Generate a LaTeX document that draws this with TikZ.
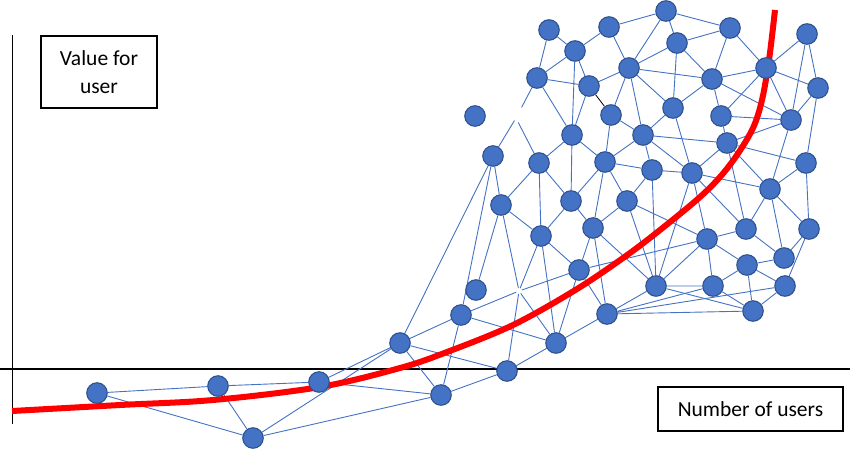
\documentclass[tikz,border=0pt]{standalone}
\usepackage{fontspec}
\setmainfont{Carlito}
\usetikzlibrary{backgrounds}
\definecolor{dotblue}{HTML}{4472C4}
\definecolor{dotrim}{HTML}{2F528F}
\definecolor{curvered}{HTML}{FF0000}

\begin{document}
\begin{tikzpicture}[x=1pt, y=-1pt,
  usr/.style={circle, fill=dotblue, draw=dotrim, line width=1.1pt, minimum size=20.5pt, inner sep=0pt},
  lnk/.style={draw=dotblue, line width=0.9pt},
  lbl/.style={rectangle, draw, line width=1.1pt, align=center, inner sep=0pt, font=\fontsize{21.5}{28}\selectfont},
  axis/.style={black, line width=1.3pt}
]
  \useasboundingbox (0,0) rectangle (850,450);

  % axis labels
  \node[lbl, minimum width=116pt, minimum height=72pt] (yname) at (99,72)    {Value for\\user};
  \node[lbl, minimum width=185pt, minimum height=44pt] (xname) at (750.5,409) {Number of users};

  % users, low part
  \node[usr] (n1) at (97,393) {};   \node[usr] (n2) at (218,386) {};  \node[usr] (n3) at (253,438) {};
  \node[usr] (n4) at (319,382) {};  \node[usr] (n5) at (400,343) {};  \node[usr] (n6) at (441,395) {};
  \node[usr] (n7) at (461,315) {};  \node[usr] (n8) at (476,290) {};  \node[usr] (n9) at (507,371) {};
  \node[usr] (n10) at (556,343) {}; \node[usr] (n11) at (607,314) {}; \node[usr] (n12) at (579,270) {};
  % users, middle
  \node[usr] (n13) at (541,236) {}; \node[usr] (n14) at (501,205) {}; \node[usr] (n15) at (493,156) {};
  \node[usr] (n16) at (475,116) {}; \node[usr] (n17) at (539,163) {}; \node[usr] (n18) at (571,201) {};
  \node[usr] (n19) at (593,228) {}; \node[usr] (n20) at (605,162) {}; \node[usr] (n21) at (627,201) {};
  \node[usr] (n22) at (656,286) {}; \node[usr] (n23) at (652,170) {}; \node[usr] (n24) at (643,135) {};
  \node[usr] (n25) at (572,135) {}; \node[usr] (n26) at (611,115) {}; \node[usr] (n27) at (589,86) {};
  % users, top
  \node[usr] (n28) at (537,78) {};  \node[usr] (n29) at (575,51) {};  \node[usr] (n30) at (549,30) {};
  \node[usr] (n31) at (629,68) {};  \node[usr] (n32) at (609,27) {};  \node[usr] (n33) at (666,11) {};
  \node[usr] (n34) at (677,43) {};  \node[usr] (n35) at (673,108) {}; \node[usr] (n36) at (730,28) {};
  \node[usr] (n37) at (712,79) {};  \node[usr] (n38) at (766,68) {};  \node[usr] (n39) at (807,34) {};
  \node[usr] (n40) at (818,88) {};  \node[usr] (n41) at (721,116) {}; \node[usr] (n42) at (791,120) {};
  % users, right
  \node[usr] (n43) at (727,143) {}; \node[usr] (n44) at (692,173) {}; \node[usr] (n45) at (806,163) {};
  \node[usr] (n46) at (770,189) {}; \node[usr] (n47) at (746,229) {}; \node[usr] (n48) at (809,229) {};
  \node[usr] (n49) at (707,239) {}; \node[usr] (n50) at (784,258) {}; \node[usr] (n51) at (747,265) {};
  \node[usr] (n52) at (713,286) {}; \node[usr] (n53) at (785,286) {}; \node[usr] (n54) at (753,311) {};
  % where links meet without a user
  \coordinate (g1) at (516,118);
  \coordinate (g2) at (519,291);

  \begin{scope}[on background layer]
    \draw[axis] (12.5,35) -- (12.5,424);
    \draw[axis] (0,369) -- (850,369);

    \draw[lnk] (n1) -- (n2) (n1) -- (n3) (n2) -- (n3) (n2) -- (n4) (n3) -- (n5) (n3) -- (n6)
      (n4) -- (n5) (n4) -- (n6) (n5) -- (n6) (n5) -- (n7) (n5) -- (n9) (n5) -- (n15)
      (n6) -- (n7) (n6) -- (n9) (n7) -- (n10) (n7) -- (n15) (n8) -- (n14) (n9) -- (n10)
      (n10) -- (n11) (n10) -- (n12) (n10) -- (n13) (n11) -- (n12) (n11) -- (n19) (n11) -- (n22)
      (n11) -- (n52) (n11) -- (n53) (n11) -- (n54) (n12) -- (n13) (n12) -- (n19) (n12) -- (n49);
    \draw[lnk] (n13) -- (n14) (n13) -- (n17) (n13) -- (n18) (n14) -- (n15) (n14) -- (n17)
      (n17) -- (n18) (n17) -- (n25) (n18) -- (n19) (n18) -- (n20) (n18) -- (n25)
      (n19) -- (n20) (n19) -- (n21) (n19) -- (n22) (n20) -- (n21) (n20) -- (n23) (n20) -- (n24)
      (n20) -- (n25) (n20) -- (n26) (n21) -- (n22) (n21) -- (n23) (n21) -- (n49)
      (n22) -- (n23) (n22) -- (n44) (n22) -- (n49) (n22) -- (n52) (n22) -- (n54)
      (n23) -- (n24) (n23) -- (n44) (n24) -- (n26) (n24) -- (n31) (n24) -- (n35) (n24) -- (n43) (n24) -- (n44);
    \draw[lnk] (n25) -- (n27) (n25) -- (n28) (n25) -- (n29) (n26) -- (n31) (n27) -- (n28)
      (n27) -- (n29) (n27) -- (n31) (n28) -- (n29) (n28) -- (n30) (n29) -- (n30) (n29) -- (n32)
      (n31) -- (n32) (n31) -- (n33) (n31) -- (n34) (n31) -- (n35) (n31) -- (n37) (n32) -- (n33)
      (n33) -- (n34) (n33) -- (n36) (n34) -- (n35) (n34) -- (n36) (n34) -- (n37) (n35) -- (n37)
      (n35) -- (n44) (n36) -- (n37) (n36) -- (n38) (n37) -- (n38) (n37) -- (n41) (n37) -- (n42);
    \draw[lnk] (n38) -- (n39) (n38) -- (n40) (n38) -- (n41) (n38) -- (n42) (n39) -- (n40)
      (n39) -- (n42) (n40) -- (n42) (n40) -- (n45) (n41) -- (n42) (n41) -- (n43) (n42) -- (n43)
      (n42) -- (n46) (n43) -- (n44) (n43) -- (n45) (n43) -- (n46) (n43) -- (n47) (n44) -- (n46)
      (n44) -- (n47) (n44) -- (n49) (n45) -- (n46) (n45) -- (n48) (n46) -- (n47) (n46) -- (n48)
      (n46) -- (n50) (n47) -- (n49) (n47) -- (n50) (n48) -- (n50) (n48) -- (n53) (n49) -- (n51)
      (n49) -- (n52) (n50) -- (n51) (n51) -- (n52) (n51) -- (n53) (n51) -- (n54) (n52) -- (n54)
      (n53) -- (n54);
    \draw[black, line width=0.8pt] (n27) -- (n26);

    % broken links
    \foreach \s in {n7,n9,n10,n12,n13,n14}
      \draw[lnk, shorten >=3pt] (\s) -- (g2);
    \draw[lnk, shorten >=3pt] (n15) -- (g1);
    \draw[lnk, shorten >=5pt] (n17) -- (g1);
    \draw[lnk, shorten >=12pt] (n28) -- (g1);

    % value curve
    \draw[curvered, line width=6pt] plot[smooth, tension=0.55] coordinates {
      (12,411) (120,405) (213,400) (320,387) (400,368) (447,352) (513,325) (577,289)
      (630,253) (670,222) (700,197) (720,177) (737,155) (753,128) (762,100) (769,60) (775,10)};
  \end{scope}
\end{tikzpicture}
\end{document}
